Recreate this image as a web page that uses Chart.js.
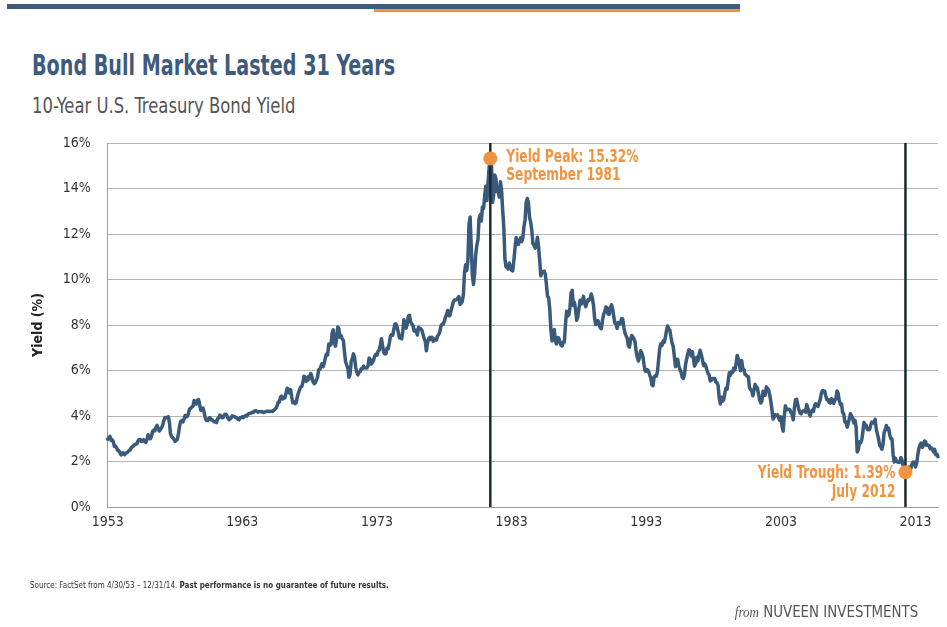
<!DOCTYPE html>
<html>
<head>
<meta charset="utf-8">
<script src="https://cdn.jsdelivr.net/npm/chart.js@4.4.1/dist/chart.umd.min.js"></script>
<style>
  html, body { margin: 0; padding: 0; background: #fff; }
  body { width: 947px; height: 627px; position: relative; overflow: hidden;
         font-family: "DejaVu Sans Condensed", "Liberation Sans Narrow", "Roboto", sans-serif; }
  .bar { position: absolute; }
  .sx { position: absolute; white-space: nowrap; transform-origin: left top; }
  #title { left: 32px; top: 49px; font-size: 28px; font-weight: bold; color: #3e5a7c; transform: scaleX(0.76); }
  #subtitle { left: 32px; top: 93px; font-size: 22px; color: #555; transform: scaleX(0.83); }
  #source { left: 30px; top: 579px; font-size: 9.5px; color: #333; transform: scaleX(0.84); }
  #brand { right: 29px; top: 602px; font-size: 16px; color: #555; transform-origin: right top; transform: scaleX(0.93); }
  #brand i { font-family: "Liberation Serif", serif; font-size: 14px; }
  canvas { position: absolute; left: 0; top: 0; }
</style>
</head>
<body>
<div class="bar" style="left:7px;top:4px;width:733px;height:5px;background:#3f5b7c"></div>
<div class="bar" style="left:374px;top:9px;width:366px;height:3px;background:#f0953c"></div>
<div id="title" class="sx">Bond Bull Market Lasted 31 Years</div>
<div id="subtitle" class="sx">10-Year U.S. Treasury Bond Yield</div>
<canvas id="c" width="947" height="627"></canvas>
<div id="source" class="sx">Source: FactSet from 4/30/53 – 12/31/14. <b>Past performance is no guarantee of future results.</b></div>
<div id="brand" class="sx"><i>from</i> NUVEEN INVESTMENTS</div>
<script>
// ---- Data: 10-Year U.S. Treasury yield (%), monthly, Apr 1953 – Dec 2014 ----
const startYear = 1953, startMonth = 4;
const yields1950s = [
  2.98, 3.05, 3.11, 2.93, 2.95, 2.87, 2.66, 2.68, 2.59,
  2.48, 2.47, 2.37, 2.29, 2.37, 2.38, 2.30, 2.36, 2.38, 2.43, 2.48, 2.51,
  2.61, 2.65, 2.68, 2.75, 2.76, 2.78, 2.90, 2.97, 2.97, 2.88, 2.89, 2.96,
  2.90, 2.84, 2.96, 3.18, 3.07, 3.00, 3.11, 3.33, 3.38, 3.34, 3.49, 3.59,
  3.46, 3.34, 3.41, 3.48, 3.60, 3.80, 3.93, 3.93, 3.92, 3.97, 3.72, 3.21,
  3.09, 3.05, 2.98, 2.88, 2.92, 2.97, 3.20, 3.54, 3.76, 3.80, 3.74, 3.86,
  4.02, 3.96, 3.99, 4.12, 4.31, 4.34, 4.40, 4.43, 4.68, 4.53, 4.53, 4.69
];
const yields1960s = [
  4.72, 4.49, 4.25, 4.28, 4.35, 4.15, 3.90, 3.80, 3.80, 3.89, 3.93, 3.84,
  3.84, 3.78, 3.74, 3.78, 3.71, 3.88, 3.92, 4.04, 3.98, 3.92, 3.94, 4.06,
  4.08, 4.04, 3.93, 3.84, 3.87, 3.91, 4.01, 3.98, 3.98, 3.93, 3.92, 3.86,
  3.83, 3.92, 3.93, 3.97, 3.93, 3.99, 4.02, 4.00, 4.08, 4.11, 4.12, 4.13,
  4.17, 4.15, 4.22, 4.23, 4.20, 4.17, 4.19, 4.19, 4.20, 4.19, 4.15, 4.18,
  4.19, 4.21, 4.21, 4.20, 4.21, 4.21, 4.20, 4.25, 4.29, 4.35, 4.45, 4.62,
  4.61, 4.83, 4.87, 4.75, 4.78, 4.81, 5.02, 5.22, 5.18, 5.01, 5.16, 4.84,
  4.58, 4.63, 4.54, 4.59, 4.85, 5.02, 5.16, 5.28, 5.30, 5.48, 5.75, 5.70,
  5.53, 5.56, 5.74, 5.64, 5.87, 5.72, 5.50, 5.42, 5.46, 5.58, 5.70, 6.03,
  6.04, 6.19, 6.30, 6.17, 6.32, 6.57, 6.72, 6.69, 7.16, 7.10, 7.14, 7.65
];
const yields1970s = [
  7.79, 7.24, 7.07, 7.39, 7.91, 7.84, 7.46, 7.53, 7.39, 7.33, 6.84, 6.39,
  6.24, 6.11, 5.70, 5.83, 6.39, 6.52, 6.73, 6.58, 6.14, 5.93, 5.81, 5.93,
  5.95, 6.08, 6.07, 6.19, 6.13, 6.11, 6.11, 6.21, 6.55, 6.48, 6.28, 6.36,
  6.46, 6.64, 6.71, 6.67, 6.85, 6.90, 7.13, 7.40, 7.09, 6.79, 6.73, 6.74,
  6.99, 6.96, 7.21, 7.51, 7.58, 7.54, 7.81, 8.04, 8.04, 7.90, 7.68, 7.43,
  7.50, 7.39, 7.73, 8.23, 8.06, 7.86, 8.06, 8.40, 8.43, 8.14, 8.05, 8.00,
  7.74, 7.79, 7.73, 7.56, 7.90, 7.86, 7.83, 7.77, 7.59, 7.41, 7.29, 6.87,
  7.21, 7.39, 7.46, 7.37, 7.46, 7.28, 7.33, 7.40, 7.34, 7.52, 7.58, 7.69,
  7.96, 8.03, 8.04, 8.15, 8.35, 8.46, 8.64, 8.41, 8.42, 8.64, 8.81, 9.01,
  9.10, 9.10, 9.12, 9.18, 9.25, 8.91, 8.95, 9.03, 9.33, 10.30, 10.65, 10.39
];
const yields1980s = [
  10.80, 12.41, 12.75, 11.47, 10.18, 9.78, 10.25, 11.10, 11.51, 11.75, 12.68, 12.84,
  12.57, 13.19, 13.12, 13.68, 14.10, 13.47, 14.28, 14.94, 15.32, 15.15, 13.39, 13.72,
  14.59, 14.43, 13.86, 13.87, 13.62, 14.30, 13.95, 13.06, 12.34, 10.91, 10.55, 10.54,
  10.46, 10.72, 10.51, 10.40, 10.38, 10.85, 11.38, 11.85, 11.65, 11.54, 11.69, 11.83,
  11.67, 11.84, 12.32, 12.63, 13.41, 13.56, 13.36, 12.72, 12.52, 12.16, 11.57, 11.50,
  11.38, 11.51, 11.86, 11.43, 10.85, 10.16, 10.31, 10.33, 10.37, 10.24, 9.78, 9.26,
  9.19, 8.70, 7.78, 7.30, 7.71, 7.80, 7.30, 7.17, 7.45, 7.43, 7.25, 7.11,
  7.08, 7.25, 7.25, 8.02, 8.61, 8.40, 8.45, 8.76, 9.42, 9.52, 8.86, 8.99,
  8.67, 8.21, 8.37, 8.72, 9.09, 8.92, 9.06, 9.26, 8.98, 8.80, 8.96, 9.11,
  9.09, 9.17, 9.36, 9.18, 8.86, 8.28, 8.02, 8.11, 8.19, 8.01, 7.87, 7.84
];
const yields1990s = [
  8.21, 8.47, 8.59, 8.79, 8.76, 8.48, 8.47, 8.75, 8.89, 8.72, 8.39, 8.08,
  8.09, 7.85, 8.11, 8.04, 8.07, 8.28, 8.27, 7.90, 7.65, 7.53, 7.42, 7.09,
  7.03, 7.34, 7.54, 7.48, 7.39, 7.26, 6.84, 6.59, 6.42, 6.59, 6.87, 6.77,
  6.60, 6.26, 5.98, 5.97, 6.04, 5.96, 5.81, 5.68, 5.36, 5.33, 5.72, 5.77,
  5.75, 5.97, 6.48, 6.97, 7.18, 7.10, 7.30, 7.24, 7.46, 7.74, 7.96, 7.81,
  7.78, 7.47, 7.20, 7.06, 6.63, 6.17, 6.28, 6.49, 6.20, 6.04, 5.93, 5.71,
  5.65, 5.81, 6.27, 6.51, 6.74, 6.91, 6.87, 6.64, 6.83, 6.53, 6.20, 6.30,
  6.58, 6.42, 6.69, 6.89, 6.71, 6.49, 6.22, 6.30, 6.21, 6.03, 5.88, 5.81,
  5.54, 5.57, 5.65, 5.64, 5.65, 5.50, 5.46, 5.34, 4.81, 4.53, 4.83, 4.65,
  4.72, 5.00, 5.23, 5.18, 5.54, 5.90, 5.79, 5.94, 5.92, 6.11, 6.03, 6.28
];
const yields2000s = [
  6.66, 6.52, 6.26, 5.99, 6.44, 6.10, 6.05, 5.83, 5.80, 5.74, 5.72, 5.24,
  5.16, 5.10, 4.89, 5.14, 5.39, 5.28, 5.24, 4.97, 4.73, 4.57, 4.65, 5.09,
  5.04, 4.91, 5.28, 5.21, 5.16, 4.93, 4.65, 4.26, 3.87, 3.94, 4.05, 4.03,
  4.05, 3.90, 3.81, 3.96, 3.57, 3.33, 3.98, 4.45, 4.27, 4.29, 4.30, 4.27,
  4.15, 4.08, 3.83, 4.35, 4.72, 4.73, 4.50, 4.28, 4.13, 4.10, 4.19, 4.23,
  4.22, 4.17, 4.50, 4.34, 4.14, 4.00, 4.18, 4.26, 4.20, 4.46, 4.54, 4.47,
  4.42, 4.57, 4.72, 4.99, 5.11, 5.11, 5.09, 4.88, 4.72, 4.73, 4.60, 4.56,
  4.76, 4.72, 4.56, 4.69, 4.75, 5.10, 5.00, 4.67, 4.52, 4.53, 4.15, 4.10,
  3.74, 3.74, 3.51, 3.68, 3.88, 4.10, 4.01, 3.89, 3.69, 3.81, 3.53, 2.42,
  2.52, 2.87, 2.82, 2.93, 3.29, 3.72, 3.56, 3.59, 3.40, 3.39, 3.40, 3.59
];
const yields2010s = [
  3.73, 3.69, 3.73, 3.85, 3.42, 3.20, 3.01, 2.70, 2.65, 2.54, 2.76, 3.29,
  3.39, 3.58, 3.41, 3.46, 3.17, 3.00, 3.00, 2.30, 1.98, 2.15, 2.01, 1.98,
  1.97, 1.97, 2.17, 2.05, 1.80, 1.62, 1.53, 1.68, 1.72, 1.75, 1.65, 1.72,
  1.91, 1.98, 1.96, 1.76, 1.93, 2.30, 2.58, 2.74, 2.81, 2.62, 2.72, 2.90,
  2.86, 2.71, 2.72, 2.71, 2.56, 2.60, 2.54, 2.42, 2.53, 2.30, 2.33, 2.21
];
const yieldTickLabels = ['0%', '2%', '4%', '6%', '8%', '10%', '12%', '14%', '16%'];
const yearTickLabels = ['1953', '1963', '1973', '1983', '1993', '2003', '2013'];
const markerMonths = ['1981-09', '2012-07'];
const markerTextLines = [['Yield Peak: 15.32%', 'September 1981'], ['Yield Trough: 1.39%', 'July 2012']];

// ---- Build series ----
const monthlyYield = [].concat(yields1950s, yields1960s, yields1970s, yields1980s, yields1990s, yields2000s, yields2010s);
const monthLabels = [];
for (let i = 0; i < monthlyYield.length; i++) {
  const m = startMonth - 1 + i;
  const yr = startYear + Math.floor(m / 12);
  const mo = (m % 12) + 1;
  monthLabels.push(yr + '-' + String(mo).padStart(2, '0'));
}
const tickEvery = 120;

const FONT = '"DejaVu Sans Condensed", "Liberation Sans Narrow", "Roboto", sans-serif';
const ORANGE = '#ef9440';

function squeezeText(ctx, text, x, y, sx) {
  ctx.save();
  ctx.translate(x, y);
  ctx.scale(sx, 1);
  ctx.fillText(text, 0, 0);
  ctx.restore();
}

const markerPlugin = {
  id: 'markers',
  afterDatasetsDraw(chart) {
    const { ctx, chartArea, scales } = chart;
    const xs = scales.x, ys = scales.y;
    ctx.save();
    markerMonths.forEach((lab) => {
      const idx = monthLabels.indexOf(lab);
      const px = xs.getPixelForValue(idx);
      ctx.beginPath();
      ctx.strokeStyle = '#1d2a2c';
      ctx.lineWidth = 2.5;
      ctx.moveTo(px, chartArea.top);
      ctx.lineTo(px, chartArea.bottom);
      ctx.stroke();
    });
    markerMonths.forEach((lab, k) => {
      const idx = monthLabels.indexOf(lab);
      const px = xs.getPixelForValue(idx);
      const py = ys.getPixelForValue(monthlyYield[idx]);
      ctx.beginPath();
      ctx.fillStyle = ORANGE;
      ctx.arc(px, py, 7, 0, Math.PI * 2);
      ctx.fill();
      ctx.font = 'bold 17px ' + FONT;
      ctx.fillStyle = ORANGE;
      ctx.textBaseline = 'middle';
      const lines = markerTextLines[k];
      if (k === 0) {
        ctx.textAlign = 'left';
        squeezeText(ctx, lines[0], px + 16, py - 1, 0.8);
        squeezeText(ctx, lines[1], px + 16, py + 17, 0.8);
      } else {
        ctx.textAlign = 'right';
        squeezeText(ctx, lines[0], px - 10, py + 1, 0.8);
        squeezeText(ctx, lines[1], px - 10, py + 20, 0.8);
      }
    });
    ctx.restore();
  }
};

new Chart(document.getElementById('c'), {
  type: 'line',
  data: {
    labels: monthLabels,
    datasets: [{
      data: monthlyYield,
      borderColor: '#3a5a7c',
      borderWidth: 3.5,
      pointRadius: 0,
      tension: 0,
      fill: false,
      borderJoinStyle: 'round',
      borderCapStyle: 'round'
    }]
  },
  options: {
    responsive: false,
    animation: false,
    devicePixelRatio: 1,
    layout: { padding: { top: 143, right: 9, left: 0, bottom: 0 } },
    plugins: { legend: { display: false }, tooltip: { enabled: false } },
    scales: {
      x: {
        type: 'category',
        offset: false,
        grid: { display: false, drawTicks: false },
        border: { display: true, color: '#9a9a9a', width: 1 },
        ticks: {
          autoSkip: false, maxRotation: 0, minRotation: 0, padding: 7,
          color: '#333', font: { family: FONT, size: 14 },
          callback: (v, i) => (i % tickEvery === 0 ? yearTickLabels[i / tickEvery] : null)
        },
        afterFit: (s) => { s.height = 120; }
      },
      y: {
        min: 0, max: 16,
        grid: { color: '#b5b5b5', lineWidth: 1, drawTicks: false },
        border: { display: true, color: '#9a9a9a', width: 1 },
        ticks: {
          stepSize: 2, padding: 17, color: '#333', font: { family: FONT, size: 14 },
          callback: (v) => yieldTickLabels[v / 2]
        },
        title: {
          display: true, text: 'Yield (%)', color: '#222',
          font: { family: FONT, size: 14, weight: 'bold' },
          padding: { top: 30, bottom: 0 }
        },
        afterFit: (s) => { s.width = 107.7; }
      }
    }
  },
  plugins: [markerPlugin]
});
</script>
</body>
</html>
